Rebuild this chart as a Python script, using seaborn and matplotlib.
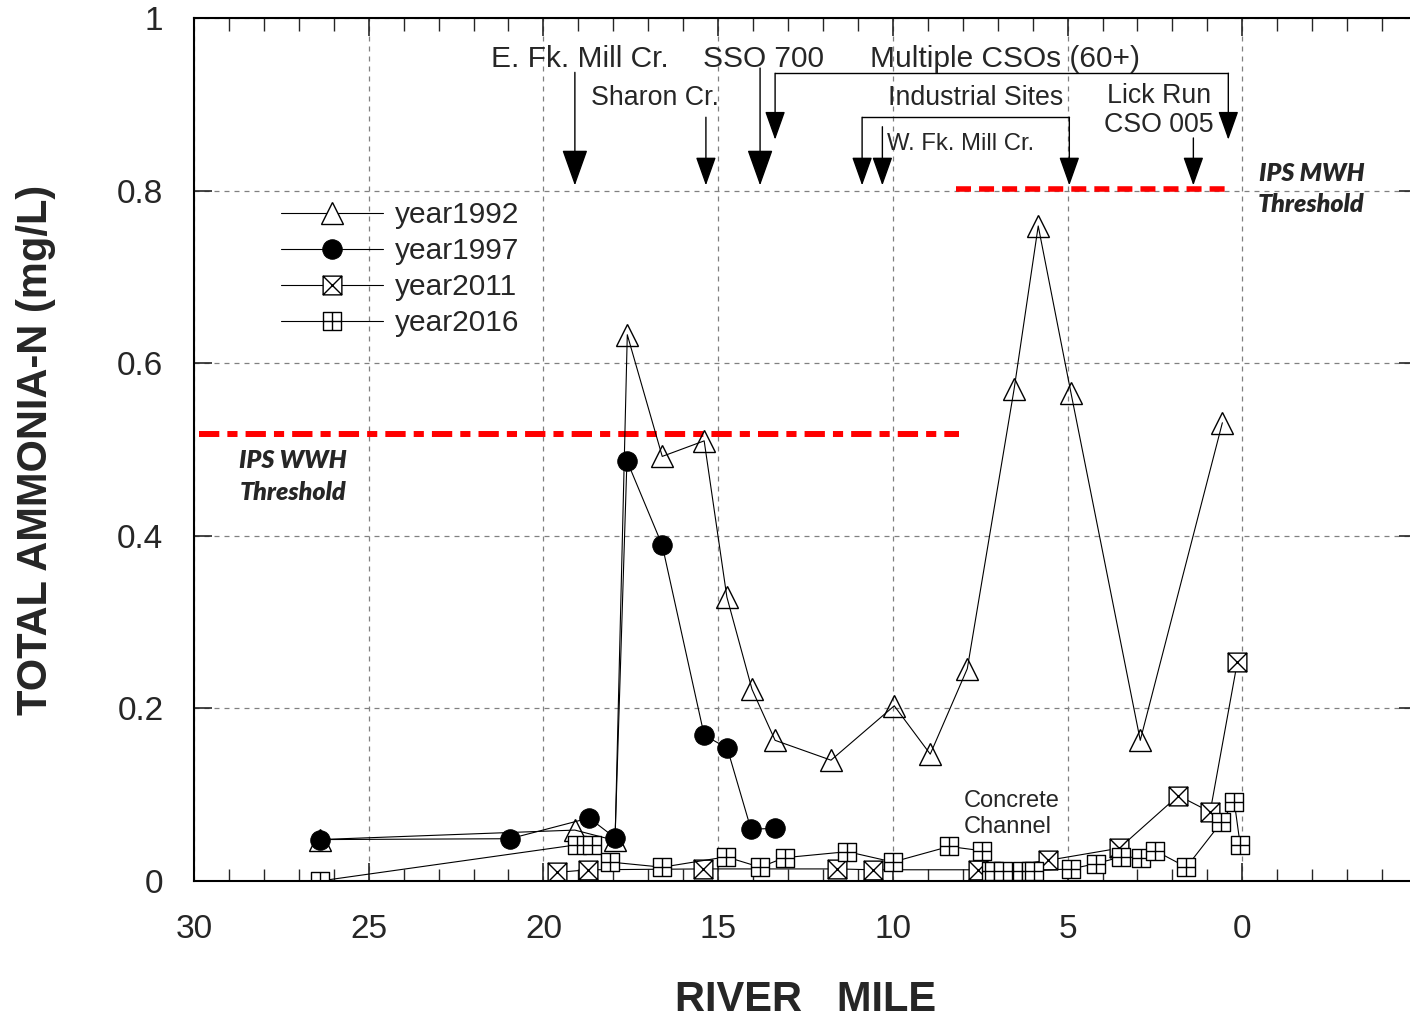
import numpy as np
import pandas as pd
import matplotlib
matplotlib.use('Agg')
import matplotlib.pyplot as plt
from matplotlib.path import Path
from matplotlib.ticker import MultipleLocator, FuncFormatter
import seaborn as sns

# ── data (river mile, total ammonia-N mg/L) ──
mile_1992 = [26.4, 19.1, 17.95, 17.6, 16.6, 15.4, 14.75, 14.03, 13.37, 11.77,
             9.96, 8.93, 7.87, 6.53, 5.84, 4.9, 2.92, 0.57]
nh3_1992 = [0.048, 0.059, 0.047, 0.633, 0.492, 0.510, 0.329, 0.222, 0.163, 0.140,
            0.203, 0.147, 0.246, 0.570, 0.759, 0.565, 0.163, 0.531]

mile_1997 = [26.4, 20.96, 18.69, 17.95, 17.61, 16.6, 15.4, 14.74, 14.06, 13.37]
nh3_1997 = [0.048, 0.049, 0.073, 0.050, 0.487, 0.389, 0.169, 0.154, 0.060, 0.061]

mile_2011 = [19.61, 18.72, 15.43, 11.6, 10.56, 7.56, 5.55, 3.52, 1.83, 0.92, 0.14]
nh3_2011 = [0.010, 0.013, 0.014, 0.014, 0.013, 0.013, 0.024, 0.038, 0.099, 0.080, 0.254]

mile_2016 = [26.4, 19.04, 18.6, 18.1, 16.6, 14.77, 13.8, 13.1, 11.3, 10.0, 8.39, 7.44,
             7.2, 7.1, 6.85, 6.3, 6.05, 5.95, 4.9, 4.2, 3.46, 2.9, 2.49, 1.6, 0.6, 0.23, 0.06]
nh3_2016 = [0.000, 0.042, 0.042, 0.022, 0.016, 0.028, 0.016, 0.027, 0.034, 0.022, 0.040, 0.035,
            0.012, 0.012, 0.012, 0.012, 0.012, 0.012, 0.014, 0.020, 0.028, 0.027, 0.035, 0.016,
            0.068, 0.092, 0.042]

wwh_threshold = 0.518
mwh_threshold = 0.802

x_ticks = [30, 25, 20, 15, 10, 5, 0]
y_ticks = [0, 0.2, 0.4, 0.6, 0.8, 1.0]

# ── custom markers: boxed X and boxed plus ──
sq = [(-1, -1), (1, -1), (1, 1), (-1, 1), (-1, -1)]
sq_codes = [Path.MOVETO] + [Path.LINETO] * 3 + [Path.CLOSEPOLY]
box_x = Path(sq + [(-1, -1), (1, 1), (-1, 1), (1, -1)],
             sq_codes + [Path.MOVETO, Path.LINETO, Path.MOVETO, Path.LINETO])
box_plus = Path(sq + [(0, -1), (0, 1), (-1, 0), (1, 0)],
                sq_codes + [Path.MOVETO, Path.LINETO, Path.MOVETO, Path.LINETO])

sns.set_style('white')
plt.rcParams['font.family'] = ['Liberation Sans', 'DejaVu Sans']

fig = plt.figure(figsize=(14.1, 10.18), dpi=100)
ax = fig.add_axes([194 / 1410, 1 - 881 / 1018, (1417 - 194) / 1410, (881 - 18) / 1018])

series = [
    ('year1992', mile_1992, nh3_1992, dict(marker='^', markersize=16, markerfacecolor='none',
                                            markeredgecolor='black', markeredgewidth=1.0)),
    ('year1997', mile_1997, nh3_1997, dict(marker='o', markersize=14, markerfacecolor='black',
                                            markeredgecolor='black')),
    ('year2011', mile_2011, nh3_2011, dict(marker=box_x, markersize=13.5, markerfacecolor='white',
                                            markeredgecolor='black', markeredgewidth=1.0)),
    ('year2016', mile_2016, nh3_2016, dict(marker=box_plus, markersize=13.5, markerfacecolor='white',
                                            markeredgecolor='black', markeredgewidth=1.0)),
]
for name, xs, ys, mk in series:
    df = pd.DataFrame({'mile': xs, 'nh3': ys})
    sns.lineplot(data=df, x='mile', y='nh3', sort=False, estimator=None, color='black',
                 lw=0.8, label=name, ax=ax, **mk)

# ── thresholds ──
ax.plot([29.85, 8.1], [wwh_threshold] * 2, color='red', lw=4.3,
        linestyle=(0, (3.4, 1.35, 1.7, 1.35)), zorder=1.5)
ax.plot([8.2, 0.3], [mwh_threshold] * 2, color='red', lw=4.0,
        linestyle=(0, (2.7, 1.45)), zorder=1.5)
lbl_font = dict(family=['Lato', 'DejaVu Sans'], fontweight='heavy', fontstyle='italic',
                fontsize=18, ha='center', va='center', linespacing=1.45)
ax.text(27.17, 0.469, 'IPS WWH\nThreshold', **lbl_font)
ax.text(-1.98, 0.802, 'IPS MWH\nThreshold', **lbl_font)

# ── source annotations ──
def arrow(x, y0, y1, big=False):
    style = ('-|>,head_length=1.15,head_width=0.41' if big
             else '-|>,head_length=0.9,head_width=0.32')
    ax.annotate('', xy=(x, y1), xytext=(x, y0),
                arrowprops=dict(arrowstyle=style, color='black', lw=1.0,
                                shrinkA=0, shrinkB=0, mutation_scale=20))

tip = 0.806
arrow(19.1, 0.937, tip, big=True)
arrow(15.35, 0.885, tip)
arrow(13.8, 0.942, tip, big=True)
# multiple CSOs bracket
ax.plot([13.37, 0.4], [0.936, 0.936], color='black', lw=1.0)
arrow(13.37, 0.936, 0.859)
arrow(0.4, 0.936, 0.859)
# industrial sites bracket
ax.plot([10.88, 4.95], [0.885, 0.885], color='black', lw=1.0)
arrow(10.88, 0.885, tip)
arrow(4.95, 0.885, tip)
arrow(10.3, 0.874, tip)
arrow(1.4, 0.861, tip)

ax.text(18.95, 0.953, 'E. Fk. Mill Cr.', fontsize=21.5, ha='center', va='center')
ax.text(13.71, 0.953, 'SSO 700', fontsize=21.5, ha='center', va='center')
ax.text(6.78, 0.953, 'Multiple CSOs (60+)', fontsize=21.5, ha='center', va='center')
ax.text(16.8, 0.907, 'Sharon Cr.', fontsize=19.3, ha='center', va='center')
ax.text(7.62, 0.907, 'Industrial Sites', fontsize=19.3, ha='center', va='center')
ax.text(2.38, 0.893, 'Lick Run\nCSO 005', fontsize=19.3, ha='center', va='center',
        linespacing=1.15)
ax.text(8.07, 0.854, 'W. Fk. Mill Cr.', fontsize=17.2, ha='center', va='center')
ax.text(7.96, 0.078, 'Concrete\nChannel', fontsize=17, ha='left', va='center',
        linespacing=1.25)

# ── axes styling ──
ax.set_xlim(30, -5)
ax.set_ylim(0, 1)
ax.set_xticks(x_ticks)
ax.set_yticks(y_ticks)
ax.xaxis.set_minor_locator(MultipleLocator(1))
ax.yaxis.set_major_formatter(FuncFormatter(lambda v, p: f'{v:g}'))
ax.tick_params(which='major', direction='in', length=13, width=1.2, labelsize=24,
               top=True, right=True, bottom=True, left=True)
ax.tick_params(axis='x', which='major', pad=24)
ax.tick_params(axis='y', which='major', pad=22)
ax.tick_params(which='minor', direction='in', length=9, width=1.0, top=True, bottom=True)
ax.grid(True, which='major', color='#808080', linestyle=(0, (4, 4)), lw=0.9)
for s in ax.spines.values():
    s.set_color('black')
    s.set_linewidth(1.5)

ax.set_xlabel('RIVER   MILE', fontsize=30, fontweight='bold', labelpad=25)
ax.set_ylabel('TOTAL AMMONIA-N (mg/L)', fontsize=30, fontweight='bold', labelpad=44)

leg = ax.legend(loc='upper left', bbox_to_anchor=(0.0715, 0.788), frameon=False, fontsize=21.5,
                handlelength=3.4, handletextpad=0.4, labelspacing=0.27, borderpad=0,
                borderaxespad=0)
leg.legend_handles[0].set_markerfacecolor('white')

fig.savefig('out.png', dpi=100)
